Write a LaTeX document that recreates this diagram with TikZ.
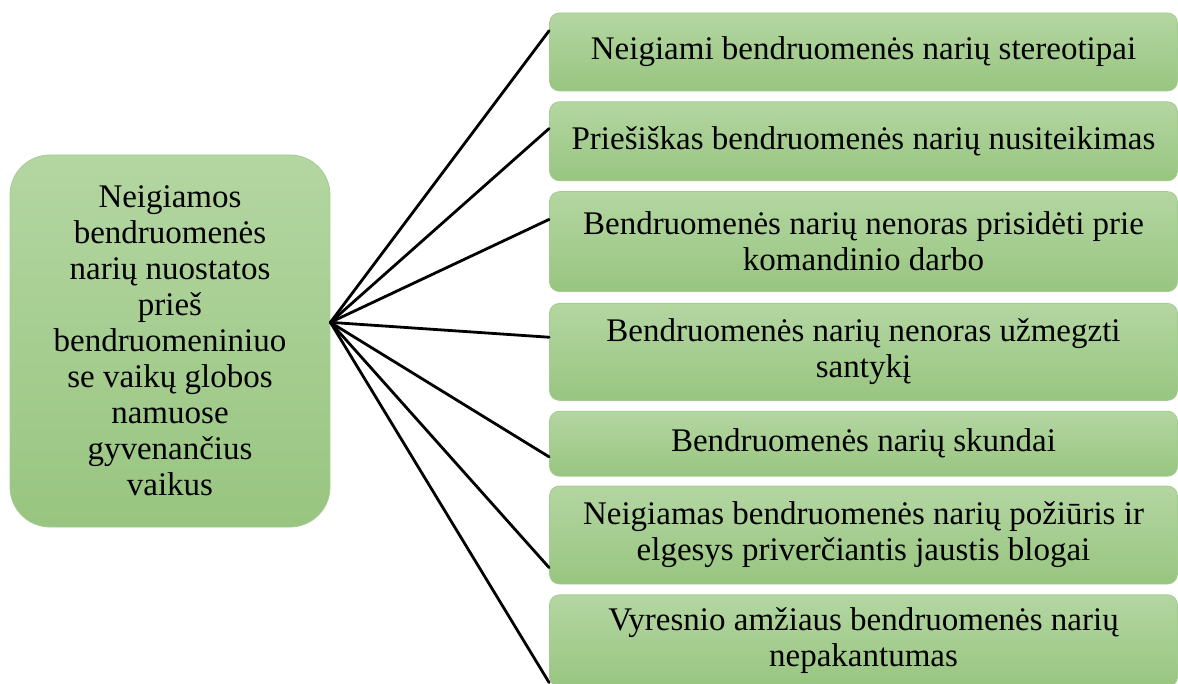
\documentclass[tikz,border=0pt]{standalone}
\usepackage{fontspec}
\setmainfont{Liberation Serif}
\newfontfamily\lserif{Liberation Serif}
\usetikzlibrary{positioning,calc}
\definecolor{boxtop}{HTML}{B4D6A2}
\definecolor{boxbot}{HTML}{98C580}
\definecolor{boxline}{HTML}{A3CC91}

\begin{document}
\begin{tikzpicture}[x=0.5pt, y=-0.5pt, every node/.style={inner sep=1pt, font=\lserif\fontsize{16.5}{18}\selectfont},
  greenbox/.style={draw=boxline, top color=boxtop, bottom color=boxbot, align=center},
  item/.style={greenbox, rounded corners=5pt, minimum width=314pt},
  link/.style={line width=1.4pt, line cap=round}]
\useasboundingbox (0,0) rectangle (1178,684);
% main box
\node[greenbox, rounded corners=20pt, minimum width=160pt, minimum height=186pt] (hub) at (170,341)
  {Neigiamos\\bendruomenės\\narių nuostatos\\prieš\\bendruomeniniuo\\se vaikų globos\\namuose\\gyvenančius\\vaikus};
% right boxes
\node[item, minimum height=39pt] (b1) at (863.5,52) {Neigiami bendruomenės narių stereotipai};
\node[item, minimum height=39.5pt, below=5pt of b1] (b2) {Priešiškas bendruomenės narių nusiteikimas};
\node[item, minimum height=50pt, below=5pt of b2] (b3) {Bendruomenės narių nenoras prisidėti prie\\komandinio darbo};
\node[item, minimum height=48.5pt, below=5.5pt of b3] (b4) {Bendruomenės narių nenoras užmegzti\\santykį};
\node[item, minimum height=32.5pt, below=5pt of b4] (b5) {Bendruomenės narių skundai};
\node[item, minimum height=49pt, below=4.5pt of b5] (b6) {Neigiamas bendruomenės narių požiūris ir\\elgesys priverčiantis jaustis blogai};
\node[item, minimum height=46pt, below=5pt of b6] (b7) {Vyresnio amžiaus bendruomenės narių\\nepakantumas};
% connectors
\coordinate (src) at ($(hub.north east)!0.45!(hub.south east)$);
\foreach \b/\f in {b1/0.23, b2/0.34, b3/0.28, b4/0.35, b5/0.7, b6/0.83, b7/0.95}
  \draw[link] (src) -- ($(\b.north west)!\f!(\b.south west)$);
\end{tikzpicture}
\end{document}
